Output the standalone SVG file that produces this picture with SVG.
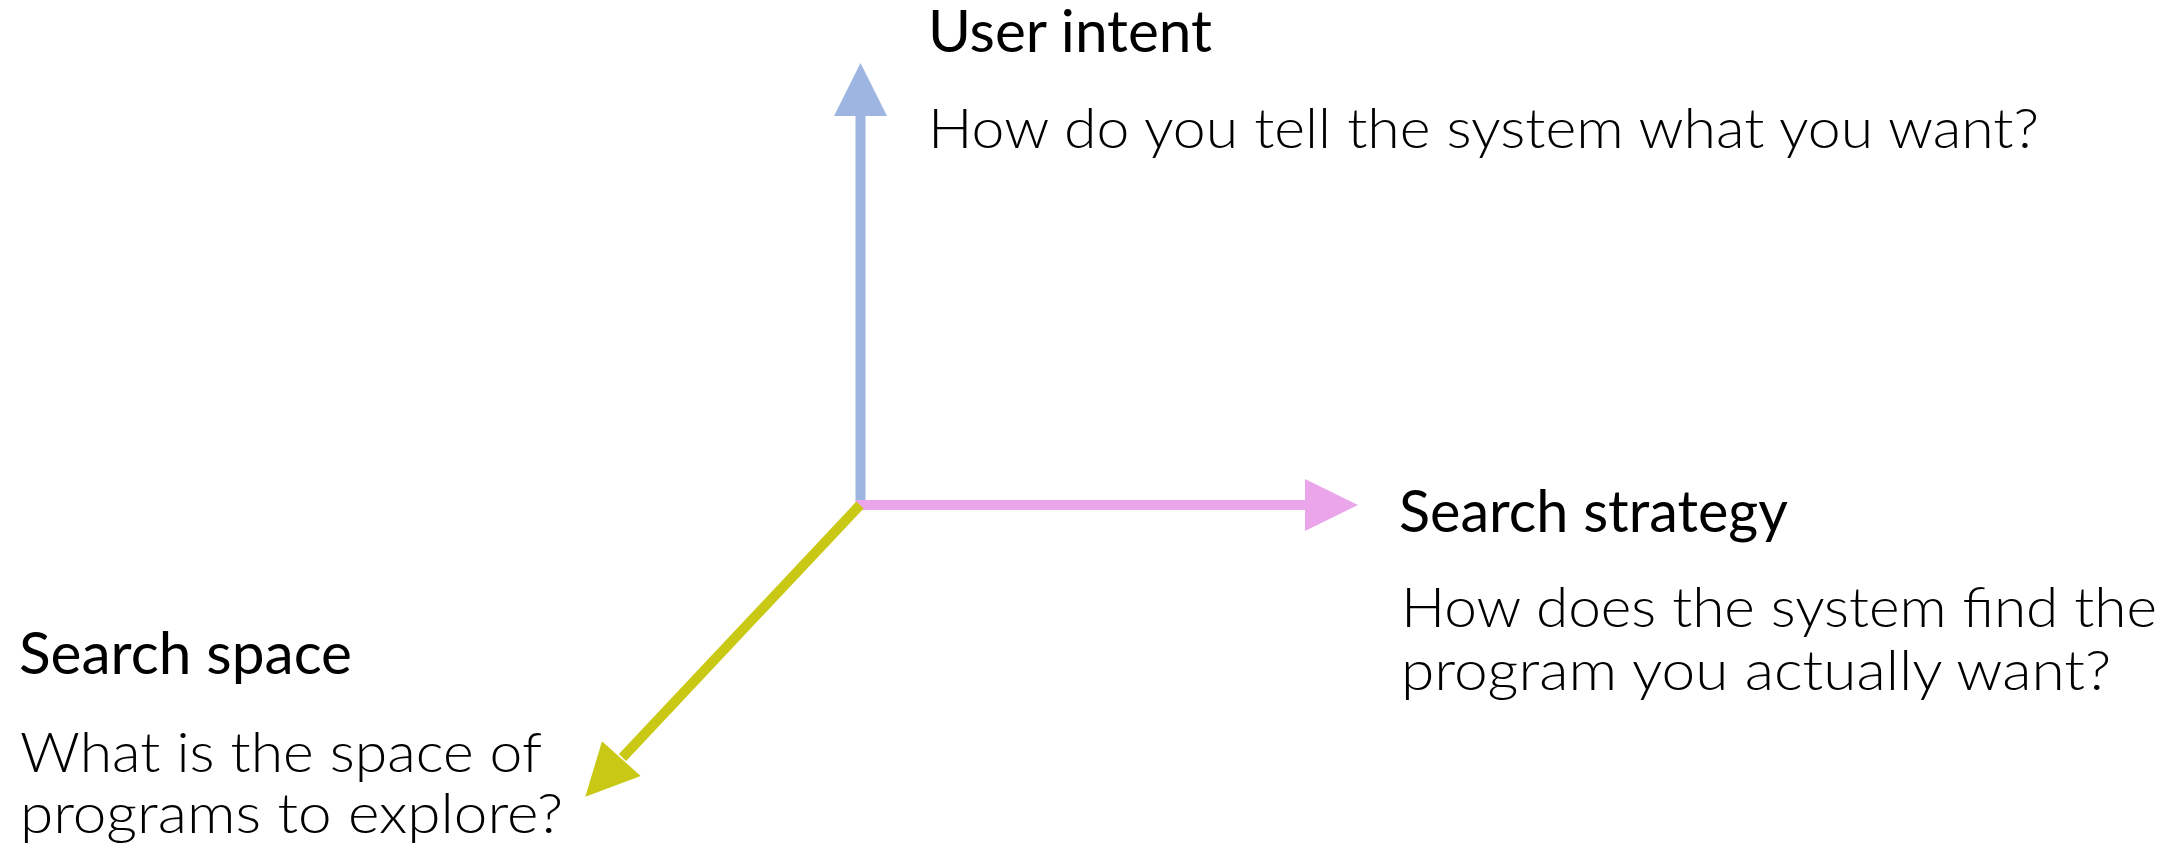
<svg xmlns="http://www.w3.org/2000/svg" width="2179" height="851" viewBox="0 0 2179 851">
  <style>
    .head { font-family: Lato, "Open Sans", "Liberation Sans", sans-serif; font-size: 58px; font-weight: 400; fill: #000; }
    .body { font-family: Lato, "Open Sans", "Liberation Sans", sans-serif; font-size: 55px; font-weight: 300; fill: #000; }
    .blue { stroke: #9db5e0; fill: #9db5e0; }
    .pink { stroke: #eba6eb; fill: #eba6eb; }
    .olive { stroke: #c9c814; fill: #c9c814; }
    .shaft { stroke-width: 10; fill: none; }
    .tip { stroke: none; }
  </style>
  <rect width="2179" height="851" fill="#ffffff"/>

  <!-- axes -->
  <g id="connectors">
    <g id="axis-intent" class="blue">
      <line class="shaft" x1="860.5" y1="505" x2="860.5" y2="114"/>
      <polygon class="tip" points="860.5,63 834,116 887,116"/>
    </g>
    <g id="axis-strategy" class="pink">
      <line class="shaft" x1="856" y1="505" x2="1307" y2="505"/>
      <polygon class="tip" points="1358,505 1305,479 1305,531"/>
    </g>
    <g id="axis-space" class="olive">
      <line class="shaft" x1="860" y1="505" x2="622.5" y2="757.5"/>
      <polygon class="tip" points="585.3,796.7 602,741.3 640.7,776"/>
    </g>
  </g>

  <!-- labels -->
  <g id="user-intent">
    <text class="head" x="928" y="52" textLength="284" lengthAdjust="spacingAndGlyphs">User intent</text>
    <text class="body" x="928" y="148" textLength="1111" lengthAdjust="spacingAndGlyphs">How do you tell the system what you want?</text>
  </g>
  <g id="search-strategy">
    <text class="head" x="1399" y="532" textLength="389" lengthAdjust="spacingAndGlyphs">Search strategy</text>
    <text class="body" x="1401" y="627" textLength="756" lengthAdjust="spacingAndGlyphs">How does the system find the</text>
    <text class="body" x="1401" y="690" textLength="710" lengthAdjust="spacingAndGlyphs">program you actually want?</text>
  </g>
  <g id="search-space">
    <text class="head" x="19" y="674" textLength="333" lengthAdjust="spacingAndGlyphs">Search space</text>
    <text class="body" x="20" y="772" textLength="522" lengthAdjust="spacingAndGlyphs">What is the space of</text>
    <text class="body" x="20" y="833" textLength="543" lengthAdjust="spacingAndGlyphs">programs to explore?</text>
  </g>
</svg>
